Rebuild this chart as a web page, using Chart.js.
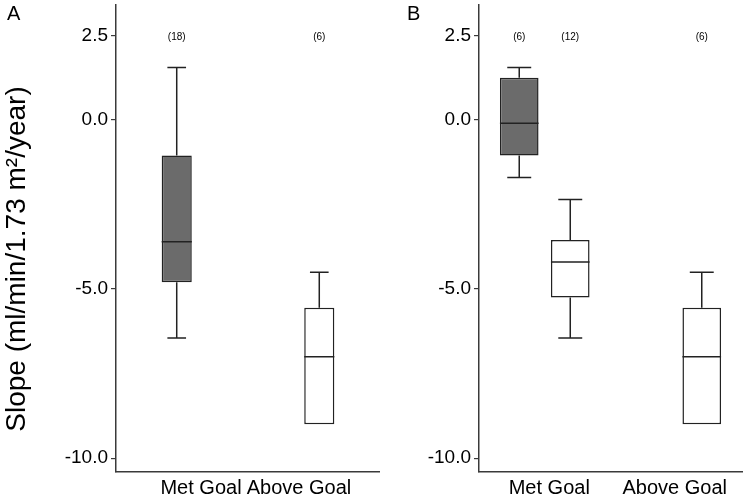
<!DOCTYPE html>
<html>
<head>
<meta charset="utf-8">
<script src="https://cdn.jsdelivr.net/npm/chart.js@4/dist/chart.umd.min.js"></script>
<style>
  html, body { margin: 0; padding: 0; background: #fff; }
  #wrap { position: relative; width: 745px; height: 497px; }
  #panelA { position: absolute; left: 0; top: 0; }
  #panelB { position: absolute; left: 380px; top: 0; }
</style>
</head>
<body>
<div id="wrap">
  <canvas id="panelA" width="380" height="497"></canvas>
  <canvas id="panelB" width="365" height="497"></canvas>
</div>
<script>
const categories = ['Met Goal', 'Above Goal'];
const yTicks = [-10, -5, 0, 2.5];

// box stats: [lower whisker, q1, median, q3, upper whisker]
const aDarkBox = [[-6.45, -4.8, -3.6, -1.05, 1.55], null];
const aLightBox = [null, [-9.0, -9.0, -7.0, -5.55, -4.5]];
const aDarkN = [18, null];
const aLightN = [null, 6];

const bDarkBox = [[-1.7, -1.05, -0.1, 1.25, 1.55], null];
const bLightBox = [[-6.45, -5.25, -4.2, -3.55, -2.35], [-9.0, -9.0, -7.0, -5.55, -4.5]];
const bDarkN = [6, null];
const bLightN = [12, 6];

const FONT = "'Liberation Sans', Helvetica, Arial, sans-serif";
const darkFill = '#6b6b6b';
const edge = '#222';

const boxExtras = {
  id: 'boxExtras',
  afterDatasetsDraw(chart, args, opts) {
    const ctx = chart.ctx;
    const y = chart.scales.y;
    const x = chart.scales.x;
    ctx.save();
    ctx.strokeStyle = edge;
    ctx.lineWidth = 1.5;
    ctx.fillStyle = '#000';
    opts.stats.forEach((series, di) => {
      const meta = chart.getDatasetMeta(di);
      series.forEach((s, i) => {
        if (!s) return;
        const bar = meta.data[i];
        const cx = bar.x;
        const w = bar.width;
        const cap = w * opts.capRatio / 2;
        const [lo, q1, med, q3, hi] = s;
        const py = (v) => y.getPixelForValue(v);
        ctx.beginPath();
        ctx.moveTo(cx - w / 2, py(med));
        ctx.lineTo(cx + w / 2, py(med));
        if (hi > q3) {
          ctx.moveTo(cx, py(q3));
          ctx.lineTo(cx, py(hi));
          ctx.moveTo(cx - cap, py(hi));
          ctx.lineTo(cx + cap, py(hi));
        }
        if (lo < q1) {
          ctx.moveTo(cx, py(q1));
          ctx.lineTo(cx, py(lo));
          ctx.moveTo(cx - cap, py(lo));
          ctx.lineTo(cx + cap, py(lo));
        }
        ctx.stroke();
      });
    });

    // group sizes above the boxes
    ctx.font = '10px ' + FONT;
    ctx.textAlign = 'center';
    ctx.textBaseline = 'middle';
    opts.counts.forEach((series, di) => {
      const meta = chart.getDatasetMeta(di);
      series.forEach((n, i) => {
        if (n == null) return;
        ctx.fillText('(' + n + ')', meta.data[i].x, y.getPixelForValue(opts.countAt));
      });
    });

    // category labels
    ctx.font = '20px ' + FONT;
    categories.forEach((c, i) => {
      ctx.fillText(c, x.getPixelForValue(i) + opts.labelShift[i], chart.chartArea.bottom + 16);
    });

    // panel letter
    ctx.textAlign = 'left';
    ctx.textBaseline = 'alphabetic';
    ctx.fillText(opts.letter, opts.letterX, 20);

    if (opts.yTitle) {
      ctx.translate(25, 259);
      ctx.rotate(-Math.PI / 2);
      ctx.textAlign = 'center';
      ctx.font = '28px ' + FONT;
      ctx.fillText(opts.yTitle, 0, 0);
    }
    ctx.restore();
  }
};

function makePanel(id, dark, light, darkN, lightN, cfg) {
  const toRange = (arr) => arr.map((s) => (s ? [s[1], s[3]] : null));
  return new Chart(document.getElementById(id), {
    type: 'bar',
    data: {
      labels: categories,
      datasets: [
        { data: toRange(dark), backgroundColor: darkFill },
        { data: toRange(light), backgroundColor: '#fff' },
      ],
    },
    options: {
      responsive: false,
      animation: false,
      events: [],
      categoryPercentage: cfg.catPct,
      barPercentage: cfg.barPct,
      borderColor: edge,
      borderWidth: 1.5,
      borderSkipped: false,
      layout: { padding: { top: 5, right: cfg.padRight, left: 0, bottom: 0 } },
      plugins: {
        legend: { display: false },
        tooltip: { enabled: false },
        boxExtras: {
          stats: [dark, light],
          counts: [darkN, lightN],
          countAt: 2.45,
          capRatio: 0.62,
          labelShift: cfg.labelShift,
          letter: cfg.letter,
          letterX: cfg.letterX,
          yTitle: cfg.yTitle,
        },
      },
      scales: {
        x: {
          grid: { display: false },
          border: { display: true, color: '#3a3a3a', width: 1.5 },
          ticks: { display: false },
          afterFit: (s) => { s.height = 25; },
        },
        y: {
          min: -10.41,
          max: 3.4,
          afterBuildTicks: (s) => { s.ticks = yTicks.map((v) => ({ value: v })); },
          afterFit: (s) => {
            s.width = cfg.yWidth;
            s.paddingTop = 0;
            s.paddingBottom = 0;
          },
          grid: { display: true, drawOnChartArea: false, drawTicks: true, tickLength: 5, color: '#3a3a3a', lineWidth: 1.2 },
          border: { display: true, color: '#3a3a3a', width: 1.5 },
          ticks: {
            padding: 3,
            color: '#000',
            font: { family: FONT, size: 19 },
            callback: (v) => Number(v).toFixed(1),
          },
        },
      },
    },
    plugins: [boxExtras],
  });
}

makePanel('panelA', aDarkBox, aLightBox, aDarkN, aLightN, {
  catPct: 0.16, barPct: 2.85, padRight: 0, yWidth: 116,
  labelShift: [19, -15], letter: 'A', letterX: 7,
  yTitle: 'Slope (ml/min/1.73 m\u00b2/year)',
});

makePanel('panelB', bDarkBox, bLightBox, bDarkN, bLightN, {
  catPct: 0.776, barPct: 0.757, padRight: 3, yWidth: 99,
  labelShift: [4.5, -1.5], letter: 'B', letterX: 27,
  yTitle: null,
});
</script>
</body>
</html>
